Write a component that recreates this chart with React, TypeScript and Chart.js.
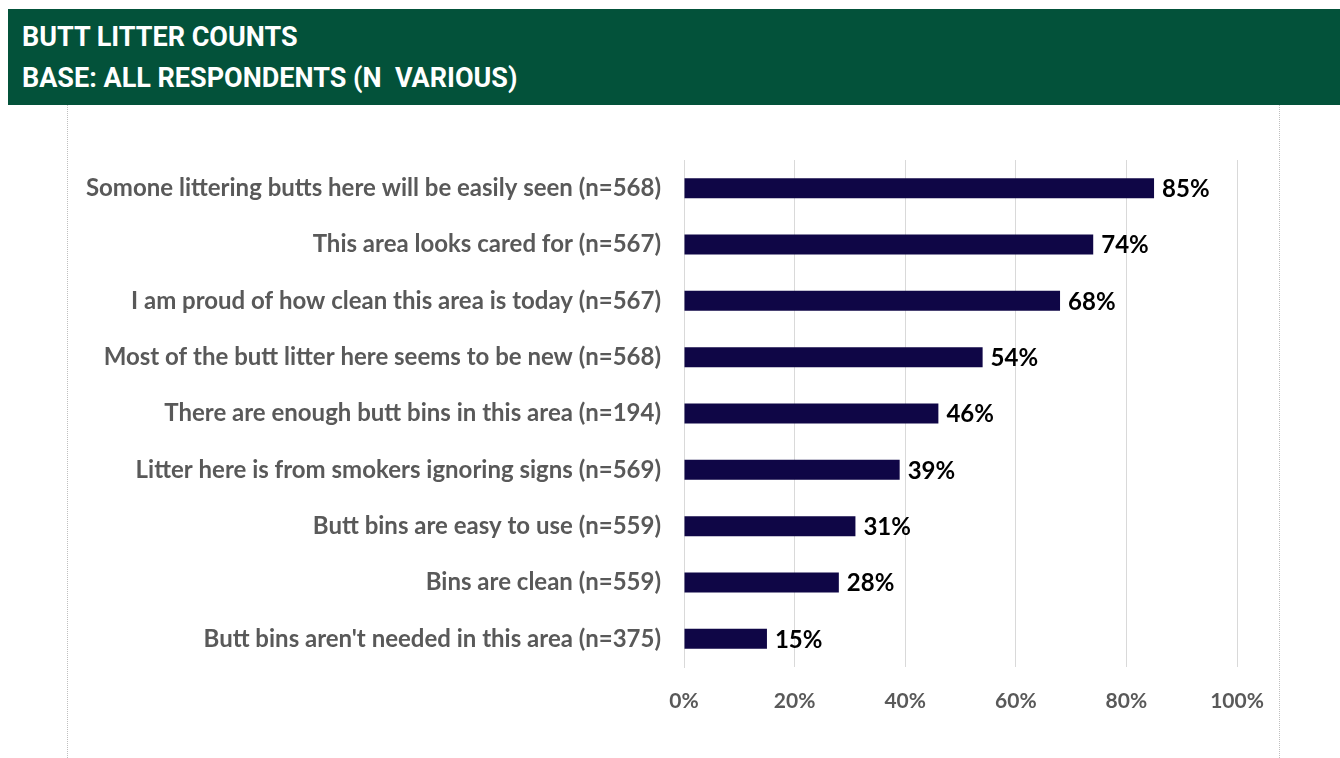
import React, { useEffect, useRef } from "react";
import { Chart, registerables } from "chart.js";

Chart.register(...registerables);

const categories: string[] = [
  "Somone littering butts here will be easily seen (n=568)",
  "This area looks cared for (n=567)",
  "I am proud of how clean this area is today (n=567)",
  "Most of the butt litter here seems to be new (n=568)",
  "There are enough butt bins in this area (n=194)",
  "Litter here is from smokers ignoring signs (n=569)",
  "Butt bins are easy to use (n=559)",
  "Bins are clean (n=559)",
  "Butt bins aren't needed in this area (n=375)",
];
const values: number[] = [85, 74, 68, 54, 46, 39, 31, 28, 15];
const xTicks: number[] = [0, 20, 40, 60, 80, 100];

const FONT = "Lato, 'Open Sans', sans-serif";

const dataLabelPlugin = {
  id: "dataLabels",
  afterDatasetsDraw(chart: any) {
    const ctx = chart.ctx;
    const meta = chart.getDatasetMeta(0);
    ctx.save();
    ctx.font = `bold 24px ${FONT}`;
    ctx.fillStyle = "#000000";
    ctx.textAlign = "left";
    ctx.textBaseline = "middle";
    meta.data.forEach((bar: any, i: number) => {
      ctx.fillText(`${values[i]}%`, bar.x + 8, bar.y + 1);
    });
    ctx.restore();
  },
};

export default function App() {
  const ref = useRef<HTMLCanvasElement | null>(null);
  useEffect(() => {
    if (!ref.current) return;
    const chart = new Chart(ref.current, {
      type: "bar",
      data: {
        labels: categories,
        datasets: [
          {
            data: values,
            backgroundColor: "#0F0646",
            borderWidth: 0,
            barPercentage: 0.355,
            categoryPercentage: 1,
          },
        ],
      },
      options: {
        indexAxis: "y",
        animation: false,
        responsive: false,
        maintainAspectRatio: false,
        layout: { padding: { top: 55, right: 103, left: 0, bottom: 0 } },
        plugins: {
          legend: { display: false },
          tooltip: { enabled: false },
          title: { display: false },
        },
        scales: {
          x: {
            min: 0,
            max: 100,
            afterBuildTicks: (scale: any) => {
              scale.ticks = xTicks.map((v) => ({ value: v }));
            },
            afterFit: (scale: any) => {
              scale.height = 91;
            },
            grid: { color: "#D9D9D9", lineWidth: 1, drawTicks: false },
            border: { display: false },
            ticks: {
              padding: 22,
              color: "#595959",
              font: { family: FONT, size: 21, weight: "bold" },
              callback: (v: any) => `${v}%`,
            },
          },
          y: {
            afterFit: (scale: any) => {
              scale.width = 684;
            },
            grid: { display: false, drawTicks: false },
            border: { display: true, color: "#D9D9D9", width: 1 },
            ticks: {
              padding: 23,
              color: "#595959",
              font: { family: FONT, size: 24, weight: "bold" },
            },
          },
        },
      },
      plugins: [dataLabelPlugin],
    });
    return () => chart.destroy();
  }, []);

  return (
    <div>
      <div
        style={{
          position: "absolute",
          left: 8,
          top: 9,
          width: 1332,
          height: 96,
          background: "#03523A",
          color: "#FFFFFF",
          fontFamily: "Roboto, sans-serif",
          fontWeight: 700,
          fontSize: 27,
        }}
      >
        <div style={{ position: "absolute", left: 14, top: 13, lineHeight: "30px", whiteSpace: "pre" }}>
          BUTT LITTER COUNTS
        </div>
        <div style={{ position: "absolute", left: 14, top: 54, lineHeight: "30px", whiteSpace: "pre" }}>
          {"BASE: ALL RESPONDENTS (N  VARIOUS)"}
        </div>
      </div>
      <div
        style={{
          position: "absolute",
          left: 67,
          top: 105,
          width: 1211,
          height: 653,
          borderLeft: "1px dotted #BFBFBF",
          borderRight: "1px dotted #BFBFBF",
        }}
      />
      <canvas
        ref={ref}
        width={1340}
        height={653}
        style={{ position: "absolute", left: 0, top: 105, width: 1340, height: 653 }}
      />
    </div>
  );
}
